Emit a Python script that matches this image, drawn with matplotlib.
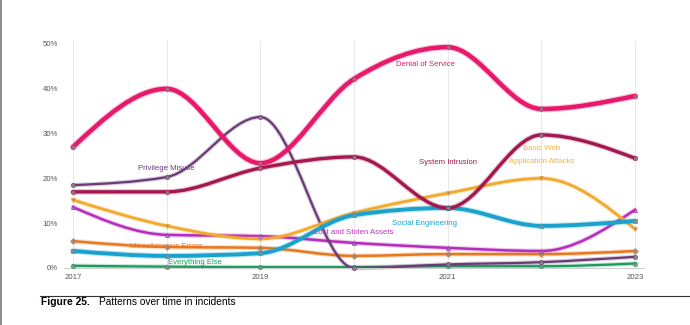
import numpy as np
import matplotlib
matplotlib.use("Agg")
import matplotlib.pyplot as plt
from matplotlib.path import Path
from matplotlib.patches import PathPatch
from matplotlib.lines import Line2D
import matplotlib.patheffects as pe

plt.rcParams['font.family'] = ['Liberation Sans', 'DejaVu Sans']

""" data (share of incidents, %) """
years = [2017, 2018, 2019, 2020, 2021, 2022, 2023]
denial_of_service = [27.0, 40.0, 23.4, 42.2, 49.3, 35.5, 38.4]
system_intrusion = [17.0, 17.0, 22.3, 24.8, 13.4, 29.7, 24.5]
privilege_misuse = [18.5, 20.3, 33.7, 0.0, 0.8, 1.3, 2.5]
basic_web = [15.2, 9.4, 6.5, 12.3, 16.7, 20.0, 8.7]
social_engineering = [3.8, 2.7, 3.3, 11.8, 13.4, 9.4, 10.5]
lost_stolen = [13.6, 7.4, 7.1, 5.6, 4.5, 3.8, 13.0]
misc_errors = [6.0, 4.7, 4.5, 2.7, 3.1, 3.1, 3.8]
everything_else = [0.5, 0.3, 0.2, 0.2, 0.4, 0.4, 1.0]

x_ticks = [2017, 2019, 2021, 2023]
y_ticks = [0, 10, 20, 30, 40, 50]


def monotone_path(x, y):
    # d3 style monotoneX curve, as cubic bezier segments
    x = np.asarray(x, float)
    y = np.asarray(y, float)
    n = len(x)
    h = np.diff(x)
    s = np.diff(y) / h
    t = np.zeros(n)
    for i in range(1, n - 1):
        p = (s[i-1]*h[i] + s[i]*h[i-1]) / (h[i-1] + h[i])
        t[i] = (np.sign(s[i-1]) + np.sign(s[i])) * min(abs(s[i-1]), abs(s[i]), 0.5*abs(p))
    t[0] = (3*s[0] - t[1]) / 2
    t[-1] = (3*s[-1] - t[-2]) / 2
    verts = [(x[0], y[0])]
    codes = [Path.MOVETO]
    for i in range(n - 1):
        dx = h[i] / 3.
        verts += [(x[i]+dx, y[i]+dx*t[i]), (x[i+1]-dx, y[i+1]-dx*t[i+1]), (x[i+1], y[i+1])]
        codes += [Path.CURVE4]*3
    return Path(verts, codes)


fig = plt.figure(figsize=(6.9, 3.25), dpi=100)
ax = fig.add_axes([63.6/690, 57/325, 580.8/690, 224/325])
ax.set_xlim(2016.9, 2023.1)
ax.set_ylim(0, 50)

# vertical grid
ax.vlines(years, 0, 51, color='#e4e4e4', lw=0.6, zorder=0, clip_on=False)

# (values, colour, line width, marker)
series = [
    (everything_else, '#1a9a5c', 1.6, 'o'),
    (misc_errors, '#e8781f', 1.8, 'D'),
    (lost_stolen, '#b52dbd', 1.8, '^'),
    (privilege_misuse, '#6a3a74', 1.6, 'o'),
    (basic_web, '#f2aa2e', 2.0, 'v'),
    (social_engineering, '#1aa2cc', 2.8, 's'),
    (system_intrusion, '#a3194f', 2.4, 'o'),
    (denial_of_service, '#e8196a', 3.2, 'o'),
]

for vals, col, lw, mk in series:
    patch = PathPatch(monotone_path(years, vals), facecolor='none', edgecolor=col,
                      lw=lw, capstyle='round', joinstyle='round', clip_on=False, zorder=2,
                      path_effects=[pe.Stroke(linewidth=lw+1.6, foreground=col, alpha=0.25),
                                    pe.Normal()])
    ax.add_patch(patch)
    ax.plot(years, vals, ls='none', marker=mk, ms=3, mfc='#8a8a8a', mec=col, mew=0.6,
            alpha=0.8, zorder=3, clip_on=False)

# series labels
fs = 5.6
ax.text(2021.0 - 0.24, 45.5, 'Denial of Service', color='#e0186a', fontsize=fs, ha='center', va='center')
ax.text(2021.0, 23.5, 'System Intrusion', color='#a01850', fontsize=fs, ha='center', va='center')
ax.text(2018.0, 22.1, 'Privilege Misuse', color='#6a3a7a', fontsize=fs, ha='center', va='center')
ax.text(2022.0, 26.6, 'Basic Web', color='#f5b43a', fontsize=fs, ha='center', va='center')
ax.text(2022.0, 23.7, 'Application Attacks', color='#f5b43a', fontsize=fs, ha='center', va='center')
ax.text(2020.75, 10.0, 'Social Engineering', color='#1aa3d0', fontsize=fs, ha='center', va='center')
ax.text(2020.0, 8.0, 'Lost and Stolen Assets', color='#c030c0', fontsize=fs, ha='center', va='center')
ax.text(2018.0, 4.9, 'Miscellaneous Errors', color='#e8731e', fontsize=fs, ha='center', va='center')
ax.text(2018.3, 1.3, 'Everything Else', color='#18a060', fontsize=fs, ha='center', va='center')

# axes styling
for side in ['top', 'right', 'left']:
    ax.spines[side].set_visible(False)
ax.spines['bottom'].set_color('#cfcfcf')
ax.spines['bottom'].set_linewidth(0.8)
ax.set_xticks(x_ticks)
ax.set_xticklabels([str(v) for v in x_ticks])
ax.set_yticks(y_ticks)
ax.set_yticklabels(['%d%%' % v for v in y_ticks])
ax.tick_params(axis='both', length=0, labelsize=5.6, labelcolor='#555555')
ax.tick_params(axis='x', pad=4)
ax.tick_params(axis='y', pad=4)

# caption
fig.add_artist(Line2D([40/690, 1.0], [1-296/325]*2, color='#333333', lw=0.8))
fig.text(41/690, 1-302/325, 'Figure 25.', fontsize=7.4, fontweight='bold', va='center')
fig.text(99/690, 1-302/325, 'Patterns over time in incidents', fontsize=7.3, va='center')

# left border
fig.add_artist(Line2D([0.002, 0.002], [0, 1], color='#777777', lw=1.2))

fig.savefig('out.png', dpi=100)
